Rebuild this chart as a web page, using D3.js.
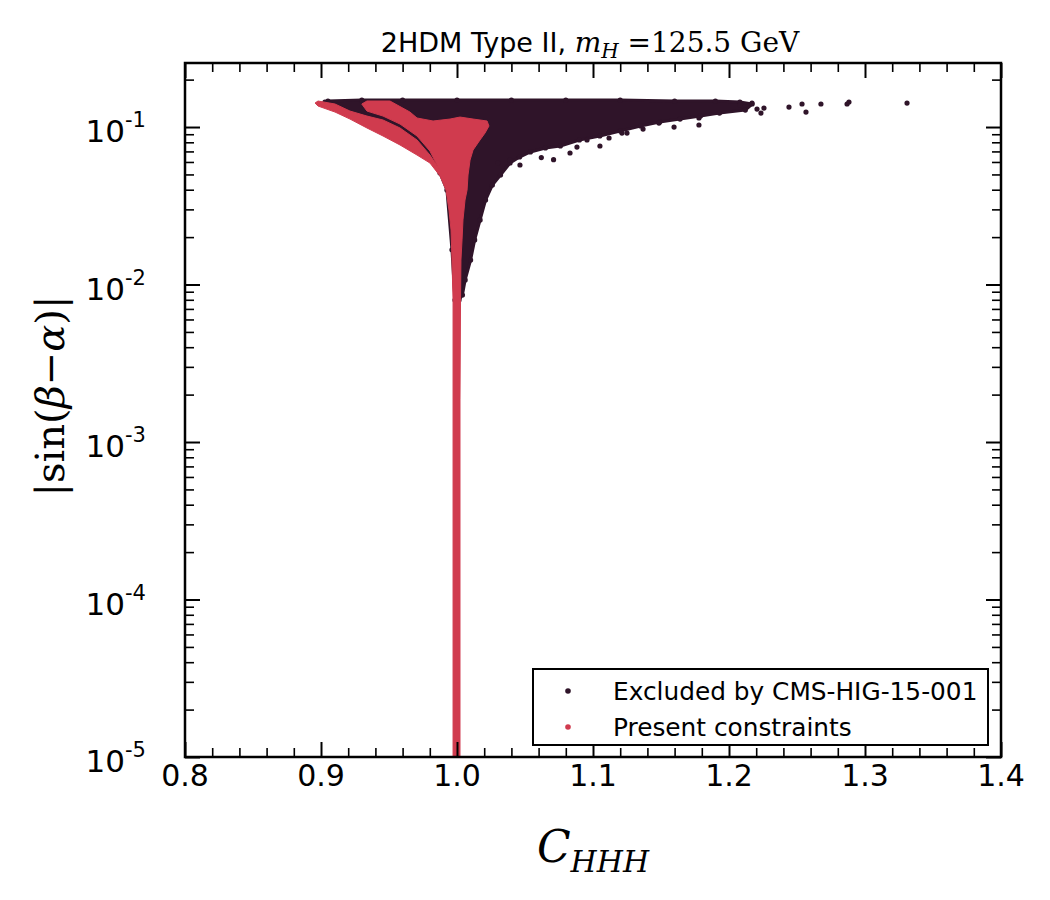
<!DOCTYPE html>
<html>
<head>
<meta charset="UTF-8">
<script src="https://d3js.org/d3.v7.min.js"></script>
<title>2HDM Type II</title>
<style>
  body { margin: 0; background: #fff; }
  text { font-family: "DejaVu Sans", sans-serif; fill: #000; }
  .math { font-family: "DejaVu Serif", serif; }
</style>
</head>
<body>
<div id="chart"></div>
<script>
// axis settings
var xTickValues = [0.8, 0.9, 1.0, 1.1, 1.2, 1.3, 1.4];
var xTickLabels = ["0.8", "0.9", "1.0", "1.1", "1.2", "1.3", "1.4"];
var yTickValues = [1e-5, 1e-4, 1e-3, 1e-2, 1e-1];
var yTickExponents = ["-5", "-4", "-3", "-2", "-1"];
var legendLabels = ["Excluded by CMS-HIG-15-001", "Present constraints"];
var seriesColors = ["#2f1429", "#d03b4e"];

// outline of the dense cloud of excluded points [C_HHH, |sin(b-a)|]
var excludedOutline = [
  [0.9051,0.1463],[0.93,0.1484],[0.96,0.1484],[1.00,0.1484],[1.04,0.1484],[1.08,0.1484],
  [1.12,0.1484],[1.16,0.1463],[1.19,0.1463],[1.208,0.1441],[1.217,0.1400],[1.212,0.1282],
  [1.193,0.1227],[1.179,0.1174],[1.164,0.1124],[1.149,0.1076],[1.135,0.1015],[1.120,0.0943],
  [1.105,0.0877],[1.090,0.0827],[1.076,0.0758],[1.065,0.0736],[1.054,0.0694],[1.046,0.0645],
  [1.039,0.0591],[1.032,0.0496],[1.026,0.0428],[1.021,0.0344],[1.017,0.0257],[1.013,0.0192],
  [1.010,0.0143],[1.006,0.0107],[1.004,0.00858],[1.0015,0.00797],[0.9985,0.00797],
  [0.9963,0.0166],[0.9926,0.0398],[0.9875,0.0510],[0.9801,0.0626],[0.9706,0.0736],
  [0.9581,0.0877],[0.9456,0.0986],[0.9338,0.1076],[0.9213,0.1192],[0.9103,0.1319],[0.9029,0.1441]
];
// scattered excluded points outside the dense cloud
var excludedC = [1.2081,1.2169,1.2206,1.2235,1.2257,1.2441,1.2537,1.2566,1.2676,1.2868,1.2882,1.3309,
  1.1779,1.1779,1.1596,1.1485,1.1368,1.1250,1.1213,1.1118,1.1051,1.0831,1.0882,1.0956,
  1.0463,1.0390,1.0301,1.071,1.062];
var excludedS = [0.1379,0.1420,0.1301,0.1227,0.1319,0.1339,0.1400,0.1245,0.1400,0.1400,0.1441,0.1420,
  0.1141,0.1030,0.1000,0.1060,0.0971,0.0916,0.0916,0.0852,0.0758,0.0684,0.0746,0.0827,
  0.0574,0.0617,0.0591,0.062,0.064];

// outline of the points allowed by present constraints
var presentOutline = [
  [0.8978,0.1463],[0.9103,0.1400],[0.9213,0.1263],[0.9338,0.1174],[0.9456,0.1108],[0.9581,0.0986],
  [0.9706,0.0827],[0.9801,0.0664],[0.9875,0.0533],
  [0.9853,0.0574],[0.9801,0.0704],[0.9706,0.0877],[0.9581,0.1045],[0.9456,0.1174],[0.9338,0.1263],
  [0.9300,0.1400],[0.9338,0.1463],[0.9507,0.1463],[0.9654,0.1245],[0.9706,0.1141],[0.9824,0.1092],
  [0.9949,0.1124],[1.0022,0.1157],[1.0118,0.1124],[1.0221,0.1092],[1.0235,0.1015],
  [1.0206,0.0916],[1.0169,0.0827],[1.0118,0.0714],[1.0096,0.0617],[1.0081,0.0496],[1.0074,0.0398],
  [1.0059,0.0344],[1.0044,0.0257],[1.0037,0.0192],[1.0029,0.0143],[1.0026,0.00797],[1.0022,0.00185],
  [1.0022,0.000005],[0.9971,0.000005],[0.9971,0.00185],[0.9971,0.00797],[0.9963,0.0143],
  [0.9956,0.0222],[0.9941,0.0297],[0.9919,0.0398],
  [0.9875,0.0489],[0.9801,0.0591],[0.9706,0.0664],[0.9581,0.0769],[0.9456,0.0877],[0.9338,0.0986],
  [0.9213,0.1124],[0.9103,0.1245],[0.8978,0.1359],[0.8956,0.1420]
];

var W = 1050, H = 900;
var margin = {left: 185, top: 63, right: 49, bottom: 143};
var width = W - margin.left - margin.right,
    height = H - margin.top - margin.bottom;

var svg = d3.select("#chart").append("svg")
  .attr("width", W).attr("height", H);

var g = svg.append("g")
  .attr("transform", "translate(" + margin.left + "," + margin.top + ")");

var x = d3.scaleLinear().domain([0.8, 1.4]).range([0, width]);
var y = d3.scaleLog().domain([1e-5, 0.255]).range([height, 0]);

g.append("clipPath").attr("id", "plotclip")
  .append("rect").attr("width", width).attr("height", height);

var plot = g.append("g").attr("clip-path", "url(#plotclip)");

var outline = d3.line()
  .x(function(d){ return x(d[0]); })
  .y(function(d){ return y(d[1]); })
  .curve(d3.curveLinearClosed);

// excluded cloud
plot.append("path")
  .attr("d", outline(excludedOutline))
  .attr("fill", seriesColors[0])
  .attr("stroke", seriesColors[0])
  .attr("stroke-width", 3)
  .attr("stroke-linejoin", "round");

// dots on the edge of the cloud plus the loose ones
plot.selectAll(".edgedot")
  .data(excludedOutline)
  .enter().append("circle")
  .attr("class", "edgedot")
  .attr("cx", function(d){ return x(d[0]); })
  .attr("cy", function(d){ return y(d[1]); })
  .attr("r", 2.6)
  .attr("fill", seriesColors[0]);

plot.selectAll(".exdot")
  .data(d3.range(excludedC.length))
  .enter().append("circle")
  .attr("class", "exdot")
  .attr("cx", function(i){ return x(excludedC[i]); })
  .attr("cy", function(i){ return y(excludedS[i]); })
  .attr("r", 2.6)
  .attr("fill", seriesColors[0]);

// present constraints cloud
plot.append("path")
  .attr("d", outline(presentOutline))
  .attr("fill", seriesColors[1])
  .attr("stroke", seriesColors[1])
  .attr("stroke-width", 1)
  .attr("stroke-linejoin", "round");

// ticks (inward, on all four sides)
var xMinor = x.ticks(30).filter(function(v){ return xTickValues.every(function(t){ return Math.abs(t - v) > 1e-9; }); });
var yMinor = y.ticks().filter(function(v){ return yTickValues.every(function(t){ return Math.abs(t - v) / t > 1e-6; }); });

function tickGroup(axis, tx, ty, vals, size, sw) {
  var a = g.append("g")
    .attr("transform", "translate(" + tx + "," + ty + ")")
    .call(axis.tickValues(vals).tickSize(-size).tickFormat(""));
  a.select(".domain").remove();
  a.selectAll("line").attr("stroke", "#000").attr("stroke-width", sw);
}
tickGroup(d3.axisBottom(x), 0, height, xTickValues, 15, 2);
tickGroup(d3.axisBottom(x), 0, height, xMinor, 9, 1.6);
tickGroup(d3.axisTop(x), 0, 0, xTickValues, 15, 2);
tickGroup(d3.axisTop(x), 0, 0, xMinor, 9, 1.6);
tickGroup(d3.axisLeft(y), 0, 0, yTickValues, 15, 2);
tickGroup(d3.axisLeft(y), 0, 0, yMinor, 9, 1.6);
tickGroup(d3.axisRight(y), width, 0, yTickValues, 15, 2);
tickGroup(d3.axisRight(y), width, 0, yMinor, 9, 1.6);

// frame
g.append("rect")
  .attr("width", width).attr("height", height)
  .attr("fill", "none").attr("stroke", "#000").attr("stroke-width", 2.5);

// x tick labels
g.selectAll(".xlab")
  .data(xTickValues)
  .enter().append("text")
  .attr("class", "xlab")
  .attr("x", function(d){ return x(d); })
  .attr("y", height + 29)
  .attr("text-anchor", "middle")
  .style("font-size", "30px")
  .text(function(d, i){ return xTickLabels[i]; });

// y tick labels 10^n
var ylab = g.selectAll(".ylab")
  .data(yTickValues)
  .enter().append("text")
  .attr("class", "ylab")
  .attr("x", -39)
  .attr("y", function(d){ return y(d) + 15; })
  .attr("text-anchor", "end")
  .style("font-size", "31px");
ylab.append("tspan").text("10");
ylab.append("tspan")
  .attr("dy", -15)
  .style("font-size", "21px")
  .text(function(d, i){ return yTickExponents[i]; });

// title
var title = svg.append("text")
  .attr("x", 590).attr("y", 52)
  .attr("text-anchor", "middle")
  .style("font-size", "27px");
title.append("tspan").text("2HDM Type II, ");
title.append("tspan").attr("class", "math").style("font-style", "italic").style("font-size", "28px").text("m");
title.append("tspan").attr("class", "math").style("font-style", "italic").style("font-size", "20px").attr("dy", 6).text("H");
title.append("tspan").attr("class", "math").style("font-size", "28px").attr("dy", -6).text(" =125.5 GeV");

// x axis label
var xl = svg.append("text")
  .attr("class", "math")
  .attr("x", margin.left + width / 2)
  .attr("y", 862)
  .attr("text-anchor", "middle")
  .style("font-size", "44px")
  .style("font-style", "italic");
xl.append("tspan").text("C");
xl.append("tspan").attr("dy", 10).style("font-size", "30px").text("HHH");

// y axis label
var yl = svg.append("text")
  .attr("class", "math")
  .attr("transform", "translate(64,396) rotate(-90)")
  .attr("text-anchor", "middle")
  .style("font-size", "40px");
yl.append("tspan").text("|sin(");
yl.append("tspan").style("font-style", "italic").text("β");
yl.append("tspan").text("\u2212");
yl.append("tspan").style("font-style", "italic").text("α");
yl.append("tspan").text(")|");

// legend
var legend = svg.append("g").attr("transform", "translate(533,669)");
legend.append("rect")
  .attr("width", 455).attr("height", 76)
  .attr("fill", "#fff").attr("stroke", "#000").attr("stroke-width", 2);
legendLabels.forEach(function(lab, i) {
  legend.append("circle")
    .attr("cx", 35).attr("cy", 22 + i * 36).attr("r", 2.8)
    .attr("fill", seriesColors[i]);
  legend.append("text")
    .attr("x", 80).attr("y", 31 + i * 36)
    .style("font-size", "24.8px")
    .text(lab);
});
</script>
</body>
</html>
